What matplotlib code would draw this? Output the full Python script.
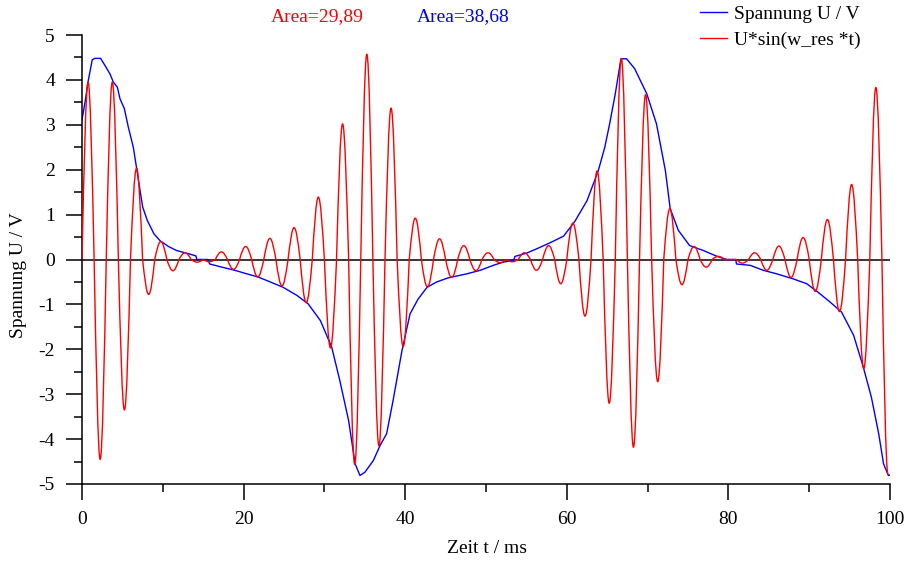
import matplotlib
matplotlib.use("Agg")
import matplotlib.pyplot as plt
import numpy as np
from matplotlib.ticker import MultipleLocator
from matplotlib.path import Path
from matplotlib.patches import PathPatch
from matplotlib.lines import Line2D

# Spannung U (blau)
blue_t = [0, 0.37, 0.78, 1.27, 1.6, 2.3, 2.85, 3.47, 3.88, 4.37,
          4.7, 5.24, 5.73, 6.35, 6.77, 7.18, 7.51, 8.08, 8.91, 9.65,
          10.7, 11.7, 12.96, 14.1, 14.2, 15.6, 15.8, 17.3, 18.9, 20.4,
          21.8, 23.3, 24.9, 26.6, 28.0, 29.5, 30.9, 31.9, 33.0, 33.8,
          34.4, 35.0, 36.05, 36.9, 37.7, 38.5, 39.6, 40.6, 41.6, 42.7,
          43.9, 45.3, 47.6, 49.3, 50.9, 52.1, 53.4, 53.6, 55.0, 56.3,
          57.9, 59.6, 61.0, 62.5, 63.9, 64.7, 65.3, 66.0, 66.7, 67.4,
          68.4, 69.9, 71.1, 72.2, 72.8, 73.8, 75.2, 76.9, 78.6, 79.8,
          80.9, 81.0, 82.7, 84.3, 86.0, 88.0, 89.7, 91.1, 92.6, 94.0,
          95.5, 96.7, 97.7, 98.6, 99.2, 99.8, 100]
blue_u = [3.11, 3.50, 3.99, 4.45, 4.48, 4.48, 4.32, 4.13, 3.95, 3.84,
          3.58, 3.36, 2.95, 2.50, 2.02, 1.54, 1.17, 0.87, 0.57, 0.42,
          0.29, 0.20, 0.14, 0.08, 0.0, 0.0, -0.10, -0.17, -0.24, -0.32,
          -0.39, -0.50, -0.62, -0.80, -0.99, -1.36, -1.95, -2.69, -3.59, -4.55,
          -4.81, -4.74, -4.48, -4.14, -3.88, -3.14, -2.03, -1.21, -0.88, -0.62,
          -0.50, -0.41, -0.32, -0.24, -0.13, -0.06, -0.02, 0.07, 0.14, 0.24,
          0.37, 0.52, 0.85, 1.31, 1.98, 2.50, 3.02, 3.69, 4.47, 4.47,
          4.25, 3.69, 3.02, 1.98, 1.13, 0.65, 0.31, 0.20, 0.07, 0.0,
          0.0, -0.10, -0.13, -0.24, -0.32, -0.43, -0.54, -0.73, -0.95, -1.17,
          -1.69, -2.40, -3.07, -3.88, -4.55, -4.81, -4.80]

# U*sin(w_res*t): Nulldurchgaenge alle 1.5 ms, Extremwerte dazwischen
red_step = 0.75
red_peaks = [3.95, -4.45, 3.95, -3.35, 2.03, -0.78, 0.40, -0.25, 0.15, -0.06,
             -0.05, 0.17, -0.22, 0.29, -0.39, 0.47, -0.59, 0.71, -0.96, 1.39,
             -1.97, 3.02, -4.56, 4.57, -4.15, 3.37, -1.94, 0.92, -0.61, 0.46,
             -0.40, 0.31, -0.25, 0.15, -0.07, -0.05, 0.15, -0.24, 0.31, -0.54,
             0.81, -1.26, 1.97, -3.2, 4.47, -4.18, 3.67, -2.72, 1.13, -0.56,
             0.29, -0.17, 0.07, 0.0, -0.08, 0.15, -0.24, 0.30, -0.40, 0.49,
             -0.71, 0.89, -1.16, 1.67, -2.43, 3.83, -4.78]

area_red = "Area=29,89"
area_blue = "Area=38,68"

red_u = np.zeros(2 * len(red_peaks))
red_u[1::2] = red_peaks
red_t = np.arange(len(red_u)) * red_step

plt.rcParams['font.family'] = ['Liberation Serif', 'DejaVu Serif']
plt.rcParams['axes.unicode_minus'] = False

fig = plt.figure(figsize=(9.08, 5.63), dpi=100)
ax = fig.add_axes([82 / 908, 1 - 484 / 563, 808 / 908, 449 / 563])

ax.axhline(0, color='black', lw=1.1, zorder=1)
l1, = ax.plot(blue_t, blue_u, color='#0000ff', lw=1.0, zorder=2)

# rote Kurve als Sinusboegen zwischen Nulldurchgang und Extremwert
a1, a2 = 0.5123, 1.0023
verts = [(red_t[0], red_u[0])]
codes = [Path.MOVETO]
for i in range(1, len(red_t)):
    t0, u0 = red_t[i - 1], red_u[i - 1]
    t1, u1 = red_t[i], red_u[i]
    s = (t1 - t0) / (np.pi / 2)
    if i % 2 == 1:
        c1 = (t0 + a1 * s, a1 * u1)
        c2 = (t0 + a2 * s, u1)
    else:
        c1 = (t0 + (np.pi / 2 - a2) * s, u0)
        c2 = (t0 + (np.pi / 2 - a1) * s, a1 * u0)
    verts += [c1, c2, (t1, u1)]
    codes += [Path.CURVE4] * 3
ax.add_patch(PathPatch(Path(verts, codes), fill=False, edgecolor='#ff0000', lw=1.0, zorder=3))
l2 = Line2D([], [], color='#ff0000', lw=1.0)

ax.set_xlim(0, 100)
ax.set_ylim(-5, 5)
for s in ['top', 'right']:
    ax.spines[s].set_visible(False)
for s in ['left', 'bottom']:
    ax.spines[s].set_linewidth(1.1)

ax.xaxis.set_major_locator(MultipleLocator(20))
ax.xaxis.set_minor_locator(MultipleLocator(10))
ax.yaxis.set_major_locator(MultipleLocator(1))
ax.yaxis.set_minor_locator(MultipleLocator(0.5))
ax.tick_params(which='major', length=11.5, width=1.1, labelsize=14, pad=8)
ax.tick_params(which='minor', length=5.8, width=1.1)

ax.set_xlabel('Zeit t / ms', fontsize=14)
ax.set_ylabel('Spannung U / V', fontsize=14)
ax.xaxis.set_label_coords(0.501, -0.125)
ax.yaxis.set_label_coords(-0.068, 0.465)

fig.text(317 / 908, 1 - 17 / 563, area_red, color='#ff0000', ha='center', va='center', fontsize=14)
fig.text(463 / 908, 1 - 17 / 563, area_blue, color='#0000ff', ha='center', va='center', fontsize=14)

fig.legend([l1, l2], ['Spannung U / V', 'U*sin(w_res *t)'], loc='upper left',
           bbox_to_anchor=(700 / 908, 1 - 5 / 563), frameon=False, fontsize=14,
           borderpad=0, borderaxespad=0, handlelength=1.4, handletextpad=0.35,
           labelspacing=0.45)

fig.savefig('out.png', dpi=100)
